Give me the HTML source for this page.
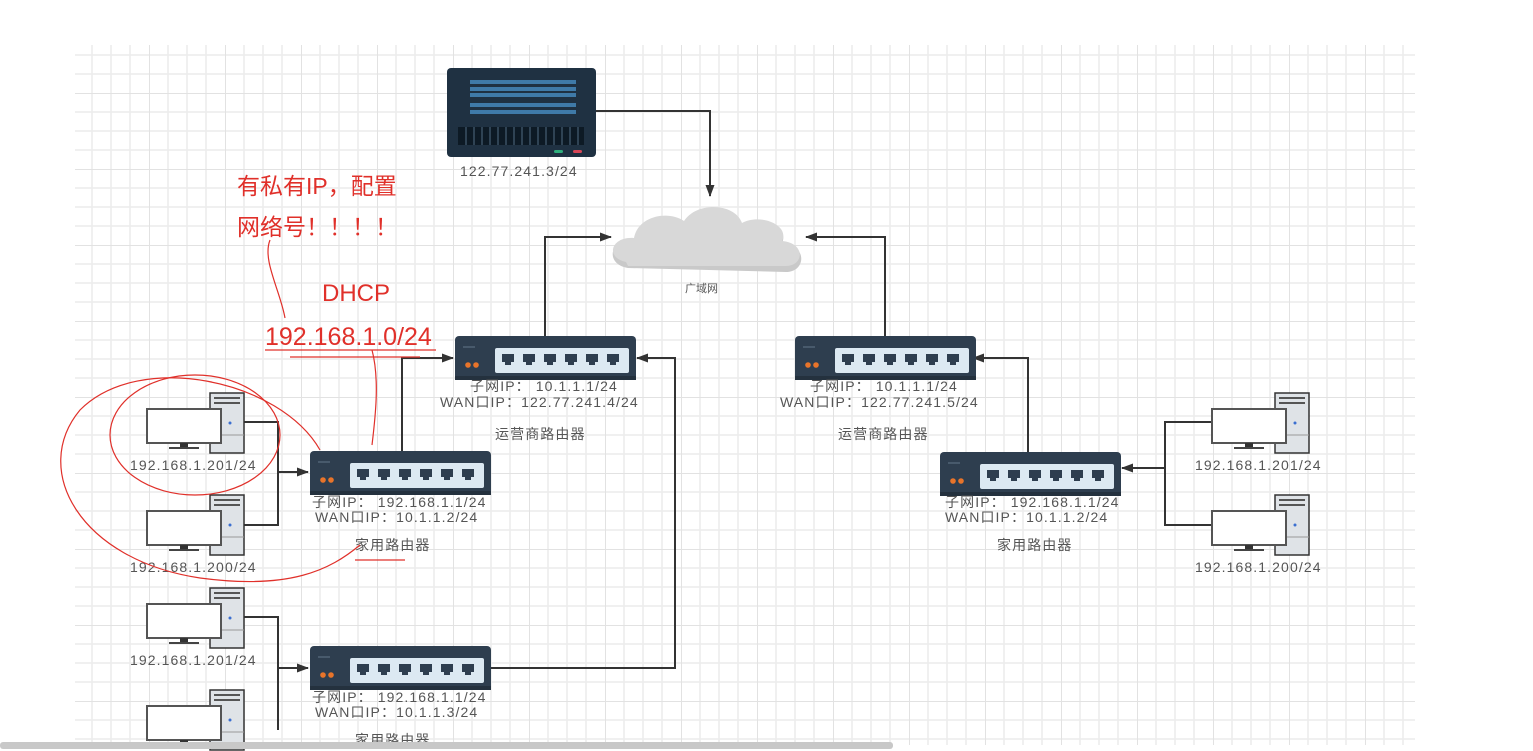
<!DOCTYPE html>
<html><head><meta charset="utf-8"><style>
html,body{margin:0;padding:0;background:#fff;}
svg{display:block;}
text{font-family:"Liberation Sans","Noto Sans CJK SC",sans-serif;}
.l{font-size:14px;letter-spacing:1.1px;fill:#555;}
</style></head><body>
<svg width="1533" height="751" viewBox="0 0 1533 751" xmlns="http://www.w3.org/2000/svg">
<defs>
<pattern id="g" x="73" y="17" width="76" height="76" patternUnits="userSpaceOnUse">
<path d="M19 0V76M38 0V76M57 0V76M0 19H76M0 38H76M0 57H76" stroke="#ececec" stroke-width="1.5"/>
<path d="M0 0V76M0 0H76" stroke="#e2e2e2" stroke-width="2"/>
</pattern>
<marker id="a" markerWidth="12" markerHeight="9" refX="11" refY="4.5" orient="auto" markerUnits="userSpaceOnUse">
<path d="M0,0 L12,4.5 L0,9 z" fill="#333"/></marker>
<g id="rt">
<rect x="0" y="0" width="181" height="44" rx="4" fill="#2e3e4f"/>
<rect x="0" y="40" width="181" height="4" fill="#24313e"/>
<rect x="8" y="10" width="12" height="2" fill="#485a6c"/>
<circle cx="13" cy="29" r="2.8" fill="#e8742a"/><circle cx="21" cy="29" r="2.8" fill="#e8742a"/>
<rect x="40" y="12" width="134" height="25" rx="2" fill="#dce9f2"/>
<g fill="#2e3e4f">
<path d="M47 18h12v8h-3v3h-6v-3h-3z"/><path d="M68 18h12v8h-3v3h-6v-3h-3z"/><path d="M89 18h12v8h-3v3h-6v-3h-3z"/>
<path d="M110 18h12v8h-3v3h-6v-3h-3z"/><path d="M131 18h12v8h-3v3h-6v-3h-3z"/><path d="M152 18h12v8h-3v3h-6v-3h-3z"/>
</g></g>
<g id="pc">
<rect x="63" y="0" width="34" height="60" fill="#dfe3e7" stroke="#333" stroke-width="1.5"/>
<rect x="67" y="4" width="26" height="2" fill="#555"/><rect x="67" y="9" width="26" height="2" fill="#555"/>
<line x1="63" y1="42" x2="97" y2="42" stroke="#999"/>
<circle cx="83" cy="30" r="1.5" fill="#3b6fd0"/>
<rect x="0" y="16" width="74" height="34" fill="#fff" stroke="#555" stroke-width="2"/>
<rect x="33" y="50" width="8" height="5" fill="#333"/>
<rect x="22" y="54" width="30" height="2" fill="#444"/>
</g>
</defs>
<rect x="75" y="45" width="1340" height="700" fill="url(#g)"/>

<!-- server -->
<rect x="447" y="68" width="149" height="89" rx="4" fill="#1f3142"/>
<g fill="#3f7aa8"><rect x="470" y="80" width="106" height="4"/><rect x="470" y="87" width="106" height="4"/><rect x="470" y="93" width="106" height="4"/><rect x="470" y="103" width="106" height="4"/><rect x="470" y="110" width="106" height="4"/></g>
<g fill="#0d1a25"><rect x="458" y="127" width="126" height="18"/></g>
<g stroke="#2f4354" stroke-width="2"><path d="M466 127v18M474 127v18M482 127v18M490 127v18M498 127v18M506 127v18M514 127v18M522 127v18M530 127v18M538 127v18M546 127v18M554 127v18M562 127v18M570 127v18M578 127v18"/></g>
<rect x="554" y="150" width="9" height="3" rx="1.5" fill="#2fae7c"/><rect x="573" y="150" width="9" height="3" rx="1.5" fill="#d84758"/>
<text x="460" y="176" class="l">122.77.241.3/24</text>

<!-- cloud -->
<path d="M628 268 C604 264 610 238 634 240 C638 218 668 212 684 223 C697 203 735 205 742 225 C760 215 790 227 782 243 C808 245 806 272 786 272 Z" fill="#c9c9c9"/>
<path d="M626 262 C604 257 612 236 634 238 C638 216 668 210 684 221 C697 201 735 203 742 223 C760 213 790 225 782 241 C806 243 804 266 786 266 L628 266 Z" fill="#d8d8d8"/>
<text x="685" y="292" font-size="11" fill="#555">广域网</text>

<g stroke="#333" stroke-width="2" fill="none">
<path d="M596 111H710V196" marker-end="url(#a)"/>
<path d="M545 336V237H611" marker-end="url(#a)"/>
<path d="M885 336V237H806" marker-end="url(#a)"/>
<path d="M402 451V358H453" marker-end="url(#a)"/>
<path d="M491 668H675V358H637" marker-end="url(#a)"/>
<path d="M1028 452V358H973" marker-end="url(#a)"/>
<path d="M243 422H278V525H243M278 472H308" marker-end="url(#a)"/>
<path d="M243 617H278V730M278 668H308" marker-end="url(#a)"/>
<path d="M1212 422H1165V525H1212M1165 468H1122" marker-end="url(#a)"/>
</g>

<use href="#rt" x="455" y="336"/>
<use href="#rt" x="795" y="336"/>
<use href="#rt" x="310" y="451"/>
<use href="#rt" x="310" y="646"/>
<use href="#rt" x="940" y="452"/>

<use href="#pc" x="147" y="393"/>
<use href="#pc" x="147" y="495"/>
<use href="#pc" x="147" y="588"/>
<use href="#pc" x="147" y="690"/>
<use href="#pc" x="1212" y="393"/>
<use href="#pc" x="1212" y="495"/>

<g>
<text x="130" y="470" class="l">192.168.1.201/24</text>
<text x="130" y="572" class="l">192.168.1.200/24</text>
<text x="130" y="665" class="l">192.168.1.201/24</text>
<text x="1195" y="470" class="l">192.168.1.201/24</text>
<text x="1195" y="572" class="l">192.168.1.200/24</text>
<text x="470" y="391" class="l">子网IP：  10.1.1.1/24</text>
<text x="440" y="407" class="l">WAN口IP：122.77.241.4/24</text>
<text x="495" y="439" class="l">运营商路由器</text>
<text x="810" y="391" class="l">子网IP：  10.1.1.1/24</text>
<text x="780" y="407" class="l">WAN口IP：122.77.241.5/24</text>
<text x="838" y="439" class="l">运营商路由器</text>
<text x="312" y="507" class="l">子网IP：  192.168.1.1/24</text>
<text x="315" y="522" class="l">WAN口IP：10.1.1.2/24</text>
<text x="355" y="550" class="l">家用路由器</text>
<text x="312" y="702" class="l">子网IP：  192.168.1.1/24</text>
<text x="315" y="717" class="l">WAN口IP：10.1.1.3/24</text>
<text x="355" y="745" class="l">家用路由器</text>
<text x="945" y="507" class="l">子网IP：  192.168.1.1/24</text>
<text x="945" y="522" class="l">WAN口IP：10.1.1.2/24</text>
<text x="997" y="550" class="l">家用路由器</text>
</g>

<!-- red annotations -->
<g fill="#e0302a">
<text x="237" y="194" font-size="23">有私有IP，配置</text>
<text x="237" y="235" font-size="23">网络号！！！！</text>
<text x="322" y="301" font-size="24">DHCP</text>
<text x="265" y="345" font-size="25">192.168.1.0/24</text>
</g>
<g stroke="#e0302a" stroke-width="1.2" fill="none">
<path d="M265 350H436"/>
<path d="M290 357H420"/>
<path d="M270 240C262 260 280 290 285 318"/>
<path d="M372 350C380 380 375 420 372 445"/>
<ellipse cx="195" cy="435" rx="85" ry="60"/>
<path d="M320 450C280 380 140 350 80 410C30 470 80 560 200 578C290 590 330 570 360 545"/>
<path d="M355 560H405"/>
</g>

<!-- scrollbar -->
<rect x="0" y="742" width="893" height="7" rx="3" fill="#c8c8c8"/>
</svg>
</body></html>
